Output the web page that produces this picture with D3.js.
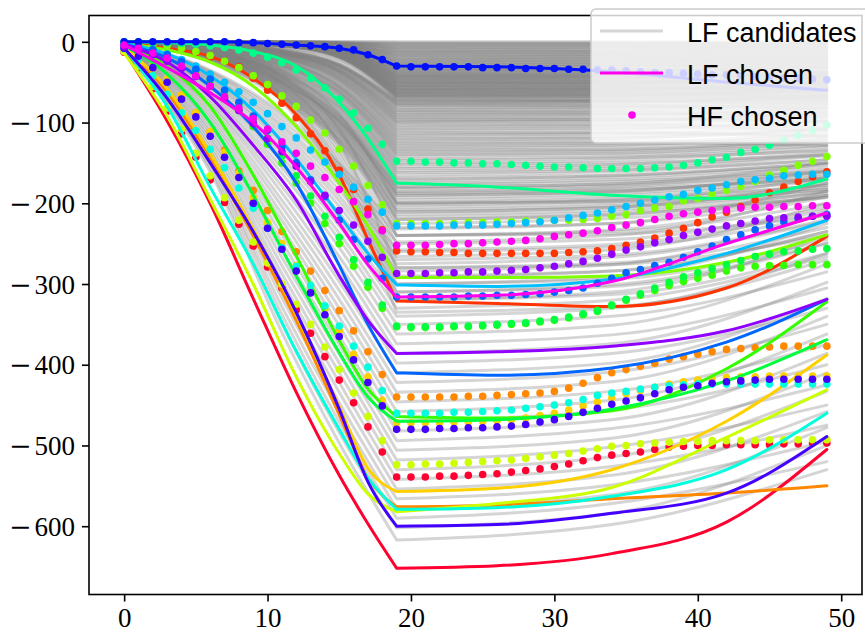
<!DOCTYPE html>
<meta charset="utf-8">
<style>
body { margin: 0; background: #fff; }
.tick text { font-family: "Liberation Serif", serif; font-size: 27px; fill: #000; }
.legend text { font-family: "Liberation Sans", sans-serif; font-size: 27px; fill: #000; }
</style>
<body>
<script src="https://d3js.org/d3.v7.min.js"></script>
<script>

// ---- data ----
var xTicks = [0, 10, 20, 30, 40, 50];
var yTicks = [0, -100, -200, -300, -400, -500, -600];
var legendLabels = ["LF candidates", "LF chosen", "HF chosen"];

// LF candidates: values at these x positions
var grayKnotX = [0, 6, 11, 15, 19, 34, 49];
var grayLines = [
  [0,0,0,0,0,0,0],[0,0,0,0,-1,-1,-1],[0,0,0,-1,-2,-2,-2],[0,0,0,-1,-3,-3,-4],[0,0,0,-1,-4,-4,-3],
  [0,0,0,-1,-5,-5,-6],[0,0,0,-2,-6,-6,-7],[0,0,-1,-2,-7,-7,-6],[0,0,-1,-2,-8,-8,-9],[0,0,-1,-2,-9,-10,-11],
  [0,0,-1,-3,-10,-10,-9],[0,0,-1,-3,-11,-12,-13],[0,0,-1,-3,-12,-12,-11],[0,0,-1,-4,-13,-14,-15],[0,0,-1,-4,-14,-14,-13],
  [0,0,-1,-4,-15,-16,-18],[0,0,-1,-4,-16,-16,-15],[0,0,-1,-5,-17,-18,-19],[0,0,-1,-5,-18,-18,-17],[0,0,-1,-5,-19,-20,-22],
  [0,0,-1,-5,-20,-20,-19],[0,0,-1,-6,-21,-22,-24],[0,0,-1,-6,-22,-22,-21],[0,0,-1,-6,-23,-24,-26],[0,0,-1,-6,-24,-24,-22],
  [0,0,-2,-7,-25,-26,-28],[0,0,-2,-7,-26,-26,-24],[0,0,-2,-7,-27,-28,-31],[0,0,-2,-8,-28,-28,-26],[0,0,-2,-8,-29,-30,-33],
  [0,0,-2,-8,-30,-30,-28],[0,0,-2,-9,-32,-33,-36],[0,0,-2,-9,-34,-34,-31],[0,0,-2,-9,-35,-36,-39],[0,0,-2,-10,-36,-36,-33],
  [0,0,-2,-10,-38,-39,-42],[0,0,-2,-10,-39,-39,-36],[0,-1,-3,-11,-40,-41,-44],[0,-1,-3,-11,-42,-42,-38],[0,-1,-3,-12,-43,-44,-47],
  [0,-1,-3,-12,-44,-44,-40],[0,-1,-3,-12,-46,-47,-50],[0,-1,-3,-13,-47,-47,-43],[0,-1,-3,-13,-48,-49,-52],[0,-1,-3,-14,-50,-50,-45],
  [0,-1,-3,-14,-51,-52,-55],[0,-1,-3,-14,-52,-52,-47],[0,-1,-4,-15,-54,-55,-58],[0,-1,-4,-15,-55,-55,-50],[0,-1,-4,-16,-56,-57,-60],
  [0,-1,-4,-16,-58,-58,-52],[0,-1,-4,-16,-59,-60,-63],[0,-1,-4,-17,-60,-60,-54],[0,-1,-4,-17,-62,-63,-66],[0,-1,-4,-18,-63,-63,-57],
  [0,-1,-4,-18,-64,-65,-68],[0,-1,-4,-18,-66,-66,-59],[0,-1,-5,-19,-67,-68,-71],[0,-1,-5,-19,-68,-68,-61],[0,-1,-5,-20,-70,-71,-74],
  [0,0,-2,-8,-31,-31,-29],[0,0,-2,-9,-33,-34,-37],[0,0,-2,-9,-35,-35,-32],[0,0,-2,-10,-37,-38,-41],[0,0,-2,-10,-39,-40,-43],
  [0,-1,-3,-11,-41,-41,-37],[0,-1,-3,-12,-43,-43,-39],[0,-1,-3,-12,-45,-46,-49],[0,-1,-3,-13,-47,-48,-51],[0,-1,-3,-13,-49,-49,-44],
  [0,-1,-3,-14,-51,-51,-46],[0,-1,-4,-15,-53,-54,-57],[0,-1,-4,-15,-55,-56,-60],[0,-1,-4,-16,-57,-57,-51],[0,-1,-4,-16,-59,-59,-53],
  [0,-1,-4,-17,-61,-62,-65],[0,-1,-4,-17,-63,-64,-68],[0,-1,-5,-18,-65,-65,-58],[0,-1,-5,-19,-67,-67,-60],[0,-1,-5,-19,-69,-70,-73],
  [0,-1,-3,-12,-42,-43,-45],[0,-1,-3,-13,-46,-45,-41],[0,-1,-3,-14,-50,-51,-54],[0,-1,-4,-15,-54,-53,-49],[0,-1,-4,-16,-58,-59,-62],
  [0,-1,-4,-17,-62,-61,-56],[0,-1,-5,-18,-66,-67,-70],
  [0,-2,-7,-22,-71,-71,-64],[0,-2,-8,-24,-72,-73,-77],[0,-2,-9,-27,-75,-74,-67],[0,-2,-10,-29,-77,-78,-81],
  [0,-2,-10,-28,-73,-73,-66],[0,-2,-11,-29,-74,-74,-78],[0,-2,-11,-29,-76,-75,-70],[0,-3,-12,-31,-79,-79,-82],[0,-3,-12,-32,-82,-81,-73],
  [0,-3,-13,-34,-85,-85,-89],[0,-3,-13,-35,-87,-86,-78],[0,-3,-14,-35,-88,-88,-92],[0,-4,-14,-37,-91,-90,-81],[0,-4,-15,-38,-94,-94,-98],
  [0,-4,-16,-40,-97,-96,-86],[0,-4,-16,-42,-100,-99,-90],[0,-5,-17,-43,-102,-102,-106],[0,-5,-18,-44,-104,-103,-93],[0,-5,-19,-46,-108,-107,-97],
  [0,-5,-20,-48,-112,-112,-116],[0,-6,-21,-51,-116,-114,-102],[0,-6,-22,-52,-118,-117,-106],[0,-6,-23,-54,-120,-119,-108],[0,-7,-24,-56,-124,-123,-124],
  [0,-7,-25,-58,-128,-126,-112],[0,-8,-27,-61,-132,-130,-117],[0,-8,-28,-62,-134,-133,-120],[0,-8,-29,-63,-136,-134,-121],[0,-9,-30,-66,-140,-138,-125],
  [0,-9,-32,-69,-145,-143,-130],[0,-10,-34,-73,-150,-147,-133],[0,-10,-35,-74,-152,-150,-140],[0,-11,-36,-76,-155,-152,-137],[0,-11,-38,-80,-160,-157,-141],
  [0,-12,-40,-83,-165,-161,-146],[0,-13,-41,-85,-168,-165,-150],[0,-13,-42,-87,-170,-166,-150],[0,-14,-45,-91,-175,-171,-155],[0,-15,-47,-94,-180,-176,-158],
  [0,-16,-50,-98,-185,-180,-163],[0,-16,-50,-98,-186,-182,-170],[0,-17,-52,-101,-190,-185,-166],[0,-18,-55,-105,-196,-191,-172],[0,-19,-58,-110,-202,-197,-177],
  [0,-20,-60,-112,-205,-200,-183],[0,-21,-62,-114,-208,-203,-182],[0,-22,-65,-119,-214,-208,-188],[0,-24,-68,-123,-220,-214,-192],
  [0,-3,-12,-30,-78,-77,-70],[0,-3,-12,-31,-81,-81,-85],[0,-3,-13,-33,-84,-83,-75],[0,-4,-14,-36,-90,-89,-94],[0,-4,-15,-37,-93,-92,-83],
  [0,-4,-15,-39,-96,-96,-100],[0,-4,-16,-41,-99,-98,-88],[0,-5,-18,-45,-106,-105,-110],[0,-5,-19,-47,-110,-109,-98],[0,-5,-20,-49,-114,-113,-118],
  [0,-6,-23,-55,-122,-120,-109],[0,-7,-24,-57,-126,-125,-128],[0,-7,-26,-60,-130,-128,-115],[0,-8,-29,-64,-138,-136,-124],[0,-9,-31,-67,-142,-140,-128],
  [0,-9,-33,-71,-147,-144,-135],[0,-11,-37,-78,-157,-154,-140],[0,-11,-39,-81,-162,-159,-146],[0,-13,-43,-89,-172,-168,-152],[0,-14,-46,-92,-177,-173,-160],
  [0,-15,-48,-96,-182,-178,-161],[0,-16,-51,-99,-188,-184,-168],[0,-17,-54,-103,-193,-188,-170],[0,-18,-57,-107,-199,-194,-178],[0,-21,-63,-116,-211,-205,-185],
  [0,-23,-67,-121,-217,-211,-193],[0,-25,-71,-127,-225,-219,-190],
  [0,-11,-40,-94,-180,-176,-150],[0,-12,-42,-99,-190,-186,-160],[0,-12,-44,-104,-200,-196,-168],[0,-13,-46,-109,-210,-205,-175],
  [0,-13,-48,-114,-220,-215,-185],[0,-14,-51,-120,-230,-225,-190],[0,-14,-53,-125,-240,-235,-200],[0,-15,-55,-130,-250,-245,-205],
  [0,-16,-57,-135,-260,-254,-215],[0,-16,-59,-140,-270,-264,-220],[0,-17,-62,-146,-280,-274,-230],[0,-17,-64,-151,-290,-284,-235],
  [0,-18,-66,-156,-300,-294,-245],[0,-19,-68,-161,-310,-303,-250],[0,-19,-70,-166,-320,-313,-262],[0,-20,-74,-174,-335,-328,-270],
  [0,-10,-36,-90,-200,-198,-180],[0,-12,-43,-108,-240,-238,-215],[0,-14,-50,-126,-280,-276,-240],
  [-1,-35,-88,-151,-232,-225,-175],[-1,-37,-92,-157,-240,-233,-192],[-1,-38,-97,-163,-248,-240,-185],[-1,-41,-102,-171,-258,-251,-208],
  [-1,-43,-106,-177,-266,-258,-200],[-2,-45,-111,-184,-275,-267,-222],[-2,-47,-116,-191,-284,-276,-210],[-2,-49,-121,-197,-292,-284,-235],
  [-2,-51,-125,-204,-300,-291,-225],[-2,-54,-131,-212,-310,-301,-249],[-3,-56,-137,-220,-320,-310,-240],[-3,-59,-143,-228,-330,-320,-266],
  [-3,-62,-149,-237,-340,-330,-262],[-3,-65,-156,-245,-350,-340,-285],[-4,-68,-163,-255,-362,-351,-275],[-4,-72,-171,-266,-374,-363,-305],
  [-4,-76,-179,-276,-386,-374,-298],[-5,-79,-187,-287,-398,-386,-330],[-5,-83,-196,-297,-410,-398,-318],[-5,-87,-204,-308,-422,-409,-350],
  [-6,-91,-213,-319,-434,-421,-340],[-6,-95,-221,-330,-446,-433,-375],[-7,-99,-230,-341,-458,-444,-362],[-7,-103,-239,-352,-470,-456,-400],
  [-7,-108,-248,-364,-482,-468,-386],[-8,-112,-258,-375,-494,-479,-425],[-8,-117,-267,-387,-506,-491,-410],[-9,-121,-277,-398,-518,-502,-450],
  [-9,-126,-287,-410,-530,-514,-433],[-10,-131,-296,-422,-542,-526,-475],[-10,-136,-307,-434,-554,-537,-458],[-11,-140,-317,-447,-566,-549,-495],
  [-11,-146,-328,-459,-578,-561,-478],[-12,-150,-338,-471,-590,-572,-520],[-12,-156,-349,-484,-602,-584,-500],[-13,-161,-360,-497,-617,-598,-530]
];

// chosen series, one colour each
var seriesColors = ["#ff0030", "#ff3300", "#ff8800", "#ffd000", "#ccff00", "#80ff00", "#33ff00", "#00ff3c",
                    "#00ff88", "#00ffdd", "#00c0ff", "#0066ff", "#0010ff", "#4400ff", "#9000ff", "#ff00ee"];

// LF chosen: values at these x positions
var lfKnotX = [0, 3, 6, 9, 12, 15, 17, 19, 26, 34, 42, 49];
var lfValues = [
  [-12,-98,-200,-318,-434,-537,-597,-652,-649,-634,-595,-505],
  [-2,-8,-18,-45,-90,-165,-245,-321,-324,-328,-305,-241],
  [-8,-62,-145,-240,-345,-462,-540,-576,-574,-566,-559,-550],
  [-6,-58,-138,-232,-338,-452,-528,-557,-553,-530,-470,-388],
  [-14,-92,-195,-300,-415,-510,-560,-582,-572,-552,-490,-431],
  [-2,-10,-25,-55,-105,-175,-228,-292,-292,-290,-273,-239],
  [-5,-30,-80,-165,-265,-370,-430,-464,-466,-457,-405,-322],
  [-5,-40,-100,-190,-290,-385,-440,-470,-468,-455,-420,-369],
  [0,-1,-4,-12,-30,-75,-120,-175,-180,-190,-194,-170],
  [-8,-80,-180,-275,-383,-480,-540,-579,-577,-563,-530,-460],
  [-2,-15,-42,-85,-145,-215,-262,-301,-303,-294,-262,-221],
  [-3,-20,-55,-105,-175,-277,-350,-410,-413,-404,-372,-319],
  [0,0,0,-1,-4,-8,-16,-30,-31,-37,-50,-60],
  [-8,-70,-150,-235,-335,-455,-545,-600,-598,-584,-559,-489],
  [-3,-25,-68,-128,-196,-290,-345,-386,-384,-377,-358,-319],
  [-4,-32,-63,-100,-155,-225,-276,-316,-314,-297,-250,-212]
];

// HF chosen: one value per step 0..49
var steps = d3.range(50);
var hfValues = [
  [-13,-32,-58,-86,-114,-143,-171,-199,-226,-253,-279,-305,-332,-361,-390,-419,-447,-477,-508,-539,
   -539,-539,-538,-538,-537,-536,-535,-533,-531,-529,-526,-523,-519,-515,-512,-510,-508,-505,-502,-501,-500,-500,-499,-499,-499,-499,-498,-498,-497,-497],
  [-1,-2,-4,-6,-10,-14,-19,-24,-31,-45,-60,-76,-94,-114,-135,-159,-183,-207,-233,-259,
   -260,-260,-261,-261,-262,-262,-262,-262,-262,-262,-262,-261,-260,-259,-256,-252,-248,-243,-237,-231,-224,-217,-211,-204,-196,-187,-180,-173,-167,-161],
  [-8,-18,-31,-47,-66,-88,-111,-134,-160,-184,-209,-235,-260,-284,-308,-333,-358,-384,-412,-440,
   -440,-440,-440,-440,-439,-439,-438,-437,-436,-435,-433,-429,-423,-416,-410,-406,-402,-398,-393,-390,-387,-384,-381,-380,-379,-378,-377,-377,-377,-377],
  [-7,-16,-29,-46,-66,-88,-111,-137,-163,-193,-224,-250,-277,-304,-331,-358,-387,-415,-444,-472,
   -472,-472,-472,-471,-471,-470,-469,-468,-466,-463,-460,-456,-451,-446,-441,-436,-432,-428,-424,-421,-419,-417,-416,-415,-415,-414,-414,-414,-414,-414],
  [-12,-30,-55,-82,-108,-138,-166,-193,-221,-248,-274,-300,-325,-350,-378,-406,-435,-464,-494,-524,
   -524,-523,-523,-522,-521,-520,-519,-518,-516,-514,-512,-510,-507,-504,-501,-500,-498,-497,-496,-495,-495,-494,-494,-494,-494,-493,-493,-493,-493,-493],
  [-1,-2,-3,-5,-8,-12,-17,-24,-32,-42,-53,-67,-80,-97,-113,-133,-154,-178,-202,-225,
   -225,-225,-225,-225,-224,-224,-223,-223,-222,-222,-221,-221,-220,-219,-216,-214,-209,-206,-204,-197,-194,-189,-184,-179,-173,-165,-159,-153,-148,-142],
  [-3,-5,-9,-16,-25,-37,-51,-67,-85,-105,-127,-150,-175,-200,-225,-250,-278,-304,-330,-353,
   -354,-354,-354,-353,-353,-352,-351,-350,-349,-347,-345,-342,-338,-334,-327,-320,-314,-308,-302,-297,-293,-289,-284,-280,-278,-277,-277,-276,-276,-276],
  [-3,-5,-9,-15,-23,-34,-47,-62,-79,-98,-119,-141,-166,-191,-216,-242,-270,-298,-326,-352,
   -353,-353,-353,-352,-352,-351,-350,-349,-348,-346,-344,-341,-337,-333,-326,-319,-312,-305,-298,-291,-286,-281,-276,-271,-266,-263,-260,-259,-257,-256],
  [0,0,-1,-1,-2,-3,-5,-7,-10,-14,-19,-26,-35,-45,-57,-71,-88,-107,-127,-148,
   -148,-149,-149,-150,-150,-151,-151,-152,-153,-154,-155,-155,-156,-157,-157,-157,-157,-156,-155,-153,-150,-146,-143,-137,-133,-128,-122,-116,-110,-103],
  [-8,-22,-42,-65,-88,-110,-133,-156,-181,-206,-231,-255,-278,-302,-327,-352,-377,-403,-432,-460,
   -460,-460,-460,-459,-459,-458,-457,-456,-454,-452,-450,-447,-443,-438,-435,-433,-430,-428,-426,-425,-424,-424,-424,-424,-424,-424,-424,-424,-424,-424],
  [-3,-6,-10,-15,-22,-30,-40,-50,-62,-75,-89,-105,-119,-134,-149,-164,-180,-195,-211,-228,
   -228,-228,-228,-227,-227,-227,-226,-225,-224,-223,-221,-218,-215,-212,-208,-204,-200,-196,-192,-189,-184,-181,-177,-173,-171,-169,-166,-165,-164,-164],
  [-3,-6,-10,-16,-24,-34,-46,-60,-75,-92,-110,-130,-150,-171,-192,-221,-245,-269,-293,-316,
   -316,-316,-316,-316,-315,-315,-314,-314,-313,-312,-310,-308,-305,-299,-293,-286,-282,-277,-273,-267,-260,-253,-245,-239,-233,-228,-223,-219,-216,-214],
  [0,0,0,0,0,0,0,0,-1,-1,-2,-3,-4,-5,-6,-8,-10,-16,-22,-30,
   -31,-31,-31,-31,-31,-32,-32,-32,-33,-33,-33,-34,-34,-35,-35,-36,-37,-38,-38,-39,-40,-41,-41,-42,-43,-44,-45,-45,-46,-47],
  [-8,-18,-32,-50,-71,-93,-117,-143,-168,-200,-231,-257,-284,-311,-338,-365,-394,-422,-451,-480,
   -480,-480,-479,-479,-478,-478,-477,-476,-474,-471,-468,-464,-459,-454,-449,-445,-441,-436,-431,-428,-426,-423,-421,-420,-419,-418,-418,-418,-418,-418],
  [-6,-10,-16,-24,-33,-43,-55,-70,-85,-101,-120,-136,-154,-173,-190,-209,-227,-247,-267,-287,
   -287,-287,-286,-286,-285,-285,-284,-283,-282,-280,-278,-275,-272,-268,-263,-258,-254,-249,-245,-240,-236,-232,-228,-225,-222,-219,-218,-217,-216,-216],
  [-4,-8,-14,-20,-30,-42,-55,-68,-82,-95,-108,-124,-138,-154,-168,-183,-198,-214,-234,-252,
   -252,-252,-251,-250,-250,-249,-248,-247,-246,-244,-241,-239,-237,-234,-230,-227,-224,-220,-216,-213,-211,-209,-208,-206,-205,-205,-204,-204,-203,-203]
];

// ---- layout ----
var width = 865, height = 638;
var plot = {left: 89, right: 862, top: 15.5, bottom: 594.5};

var x = d3.scaleLinear().domain([-2.45, 51.45]).range([plot.left, plot.right]);
var y = d3.scaleLinear().domain([-684.6, 32.6]).range([plot.bottom, plot.top]);

var svg = d3.select("body").append("svg")
    .attr("width", width)
    .attr("height", height);

svg.append("clipPath").attr("id", "clip")
  .append("rect")
    .attr("x", plot.left).attr("y", plot.top)
    .attr("width", plot.right - plot.left).attr("height", plot.bottom - plot.top);

var line = d3.line()
    .x(function(d) { return x(d[0]); })
    .y(function(d) { return y(d[1]); })
    .curve(d3.curveMonotoneX);

// the curves have a kink at x = 19, so draw both sides separately
function kinkedPath(knots, vals) {
  var pts = knots.map(function(k, i) { return [k, vals[i]]; });
  var j = knots.indexOf(19);
  return line(pts.slice(0, j + 1)) + line(pts.slice(j));
}

var g = svg.append("g").attr("clip-path", "url(#clip)");

// LF candidates
g.append("g").selectAll("path")
    .data(grayLines)
  .enter().append("path")
    .attr("d", function(d) { return kinkedPath(grayKnotX, d); })
    .attr("fill", "none")
    .attr("stroke", "#808080")
    .attr("stroke-opacity", 0.33)
    .attr("stroke-width", 3)
    .attr("stroke-linecap", "round");

// chosen LF line + HF dots, colour by colour
seriesColors.forEach(function(c, i) {
  g.append("path")
      .attr("d", kinkedPath(lfKnotX, lfValues[i]))
      .attr("fill", "none")
      .attr("stroke", c)
      .attr("stroke-width", 3)
      .attr("stroke-linecap", "round")
      .attr("stroke-linejoin", "round");

  g.append("g").selectAll("circle")
      .data(steps)
    .enter().append("circle")
      .attr("cx", function(s) { return x(s); })
      .attr("cy", function(s) { return y(hfValues[i][s]); })
      .attr("r", 3.8)
      .attr("fill", c);
});

// axes
var xAxis = svg.append("g")
    .attr("transform", "translate(0," + plot.bottom + ")")
    .call(d3.axisBottom(x).tickValues(xTicks).tickSize(7).tickPadding(6));
var yAxis = svg.append("g")
    .attr("transform", "translate(" + plot.left + ",0)")
    .call(d3.axisLeft(y).tickValues(yTicks).tickSize(7).tickPadding(7));
[xAxis, yAxis].forEach(function(a) {
  a.select(".domain").remove();
  a.selectAll(".tick line").attr("stroke", "#000").attr("stroke-width", 1.6);
});

// y labels: wide math minus with a gap, like the original
yAxis.selectAll(".tick text")
    .attr("dy", "0.34em")
    .each(function(d) {
      var t = d3.select(this);
      t.text(null);
      if (d < 0) {
        t.append("tspan").attr("font-family", "DejaVu Serif").text("\u2212");
        t.append("tspan").attr("dx", 3).text(Math.abs(d));
      } else {
        t.text(d);
      }
    });

svg.append("rect")
    .attr("x", plot.left).attr("y", plot.top)
    .attr("width", plot.right - plot.left).attr("height", plot.bottom - plot.top)
    .attr("fill", "none")
    .attr("stroke", "#000")
    .attr("stroke-width", 1.6);

// legend
var legend = svg.append("g").attr("class", "legend");
legend.append("rect")
    .attr("x", 591).attr("y", 9)
    .attr("width", 290).attr("height", 134)
    .attr("rx", 5)
    .attr("fill", "#fff").attr("fill-opacity", 0.8)
    .attr("stroke", "#cccccc").attr("stroke-width", 1.5);

var rowY = [31, 73, 115];
legend.append("line")
    .attr("x1", 600).attr("x2", 663).attr("y1", rowY[0]).attr("y2", rowY[0])
    .attr("stroke", "#808080").attr("stroke-opacity", 0.33).attr("stroke-width", 3);
legend.append("line")
    .attr("x1", 600).attr("x2", 663).attr("y1", rowY[1]).attr("y2", rowY[1])
    .attr("stroke", "#ff00ee").attr("stroke-width", 3);
legend.append("circle")
    .attr("cx", 632).attr("cy", rowY[2]).attr("r", 3.8)
    .attr("fill", "#ff00ee");

legend.selectAll("text")
    .data(legendLabels)
  .enter().append("text")
    .attr("x", 687)
    .attr("y", function(d, i) { return rowY[i] + 10.5; })
    .text(function(d) { return d; });

</script>
</body>
